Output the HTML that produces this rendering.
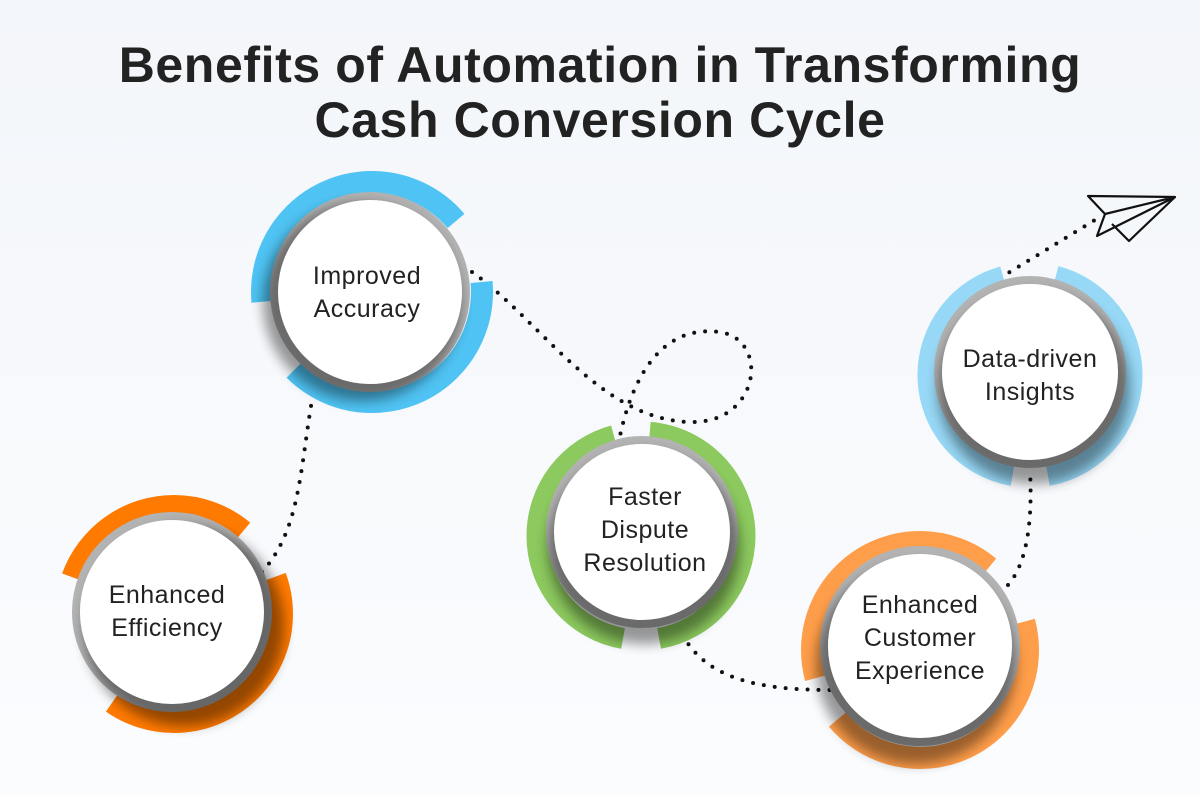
<!DOCTYPE html>
<html><head><meta charset="utf-8"><style>
html,body{margin:0;padding:0;width:1200px;height:796px;overflow:hidden;background:linear-gradient(180deg,#f3f6fa 0%,#fbfcfe 100%);}
svg{display:block}
.t{font-family:"Liberation Sans",sans-serif;font-weight:bold;font-size:50px;fill:#222;text-anchor:middle;letter-spacing:0.6px}
.c{font-family:"Liberation Sans",sans-serif;font-size:25px;fill:#222;text-anchor:middle;letter-spacing:0.5px}
.dot{fill:none;stroke:#111;stroke-width:4;stroke-linecap:round;stroke-dasharray:0 11}
.g{fill:none;stroke:#b3b3b3;stroke-width:8}
</style></head><body>
<svg width="1200" height="796" viewBox="0 0 1200 796">
<defs><filter id="b" x="-50%" y="-50%" width="200%" height="200%"><feGaussianBlur stdDeviation="6"/></filter></defs>
<text class="t" x="600" y="82">Benefits of Automation in Transforming</text>
<text class="t" x="600" y="137">Cash Conversion Cycle</text>

<path class="dot" d="M262 572 C300 530 300 470 312 400"/>
<path class="dot" d="M472 272 C540 320 600 420 690 422 C760 424 770 340 720 332 C660 324 630 380 618 446"/>
<path class="dot" d="M678 625 C700 680 760 690 832 690"/>
<path class="dot" d="M1008 585 C1030 560 1032 510 1030 470"/>
<path class="dot" d="M1000 278 L1095 220"/>
<g fill="none" stroke="#111" stroke-width="2.2" stroke-linejoin="round">
<path d="M1088 196 L1175 197 L1105 214 Z"/>
<path d="M1105 214 L1097 236 L1175 197"/>
<path d="M1112 224 L1129 241 L1175 197"/>
</g>

<g>
<circle cx="372" cy="292" r="110" fill="none" stroke="#4fc3f3" stroke-width="22" pathLength="360" stroke-dasharray="145 35 140 40" stroke-dashoffset="-175"/>
<circle class="g" cx="370" cy="292" r="96"/>
<circle cx="362" cy="302" r="99" fill="#000" opacity=".4" filter="url(#b)"/>
<circle cx="370" cy="292" r="92" fill="#fff"/>
<text class="c" x="367" y="284">Improved</text><text class="c" x="367" y="317">Accuracy</text>
</g>
<g>
<circle cx="174" cy="614" r="108" fill="none" stroke="#ff7a00" stroke-width="22" pathLength="360" stroke-dasharray="110 30 145 75" stroke-dashoffset="-200"/>
<circle class="g" cx="172" cy="612" r="96"/>
<circle cx="184" cy="626" r="100" fill="#000" opacity=".42" filter="url(#b)"/>
<circle cx="172" cy="612" r="92" fill="#fff"/>
<text class="c" x="167" y="603">Enhanced</text><text class="c" x="167" y="636">Efficiency</text>
</g>
<g>
<circle cx="641" cy="536" r="104" fill="none" stroke="#8cc95e" stroke-width="21" pathLength="360" stroke-dasharray="155 20 165 20" stroke-dashoffset="-100"/>
<circle class="g" cx="642" cy="532" r="92"/>
<circle cx="644" cy="548" r="96" fill="#000" opacity=".4" filter="url(#b)"/>
<circle cx="642" cy="532" r="88" fill="#fff"/>
<text class="c" x="645" y="505">Faster</text><text class="c" x="645" y="538">Dispute</text><text class="c" x="645" y="571">Resolution</text>
</g>
<g>
<circle cx="920" cy="650" r="108" fill="none" stroke="#ff9e4a" stroke-width="22" pathLength="360" stroke-dasharray="145 35 155 25" stroke-dashoffset="-165"/>
<circle class="g" cx="920" cy="646" r="96"/>
<circle cx="916" cy="664" r="100" fill="#000" opacity=".4" filter="url(#b)"/>
<circle cx="920" cy="646" r="92" fill="#fff"/>
<text class="c" x="920" y="613">Enhanced</text><text class="c" x="920" y="646">Customer</text><text class="c" x="920" y="679">Experience</text>
</g>
<g>
<circle cx="1030" cy="375" r="102" fill="none" stroke="#97d8f6" stroke-width="21" pathLength="360" stroke-dasharray="155 30 155 20" stroke-dashoffset="-100"/>
<circle class="g" cx="1030" cy="372" r="92"/>
<circle cx="1034" cy="388" r="96" fill="#000" opacity=".4" filter="url(#b)"/>
<circle cx="1030" cy="372" r="88" fill="#fff"/>
<text class="c" x="1030" y="367">Data-driven</text><text class="c" x="1030" y="400">Insights</text>
</g>
</svg>
</body></html>
